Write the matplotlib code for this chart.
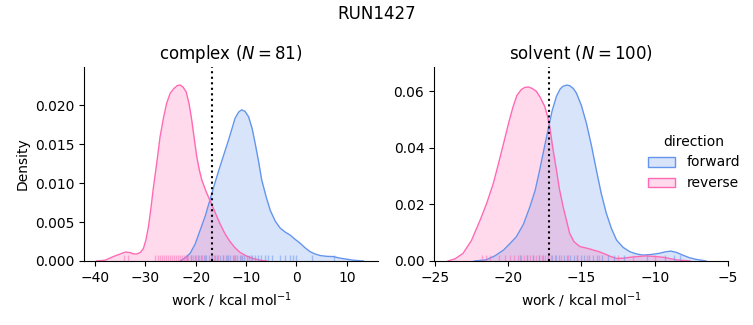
import numpy as np
import matplotlib
matplotlib.use("Agg")
from matplotlib import pyplot as plt
from matplotlib.patches import Patch
import matplotlib.transforms as mtransforms

# colours used by the two directions
FWD = "cornflowerblue"
REV = "hotpink"

# complex panel: density curves
cx_fwd_x = [-23.1, -22.1, -21.1, -20.1, -19.1, -18.1, -17.2, -16.2, -15.2, -14.3, -13.5, -12.8,
            -12.2, -11.5, -10.9, -10.2, -9.5, -8.8, -8.2, -7.5, -6.9, -6.0, -5.2, -4.2, -3.2,
            -2.2, -1.2, -0.3, 0.7, 1.7, 2.7, 3.7, 4.7, 6.0, 7.4, 8.4, 9.3, 11.3, 13.3]
cx_fwd_d = [0.0, 0.0004, 0.001, 0.0022, 0.004, 0.0058, 0.0078, 0.0100, 0.0121, 0.0139, 0.0155, 0.0170,
            0.0183, 0.0191, 0.0194, 0.0192, 0.0185, 0.0170, 0.0151, 0.0127, 0.0104, 0.0082, 0.0065,
            0.0051, 0.0042, 0.0037, 0.0033, 0.0028, 0.0023, 0.0017, 0.0012, 0.0009, 0.0007, 0.0006,
            0.00056, 0.0004, 0.0003, 0.0001, 0.0]
cx_rev_x = [-39.7, -38.0, -36.4, -35.0, -34.0, -33.0, -32.3, -31.7, -31.0, -30.4, -29.9, -29.4,
            -28.9, -28.4, -27.7, -27.1, -26.4, -25.8, -25.1, -24.4, -23.7, -23.1, -22.5, -21.9,
            -21.3, -20.8, -20.3, -19.8, -19.3, -18.8, -18.0, -17.2, -16.2, -15.2, -14.2, -13.2,
            -12.2, -11.2, -9.8, -8.5, -7.2, -5.9]
cx_rev_d = [0.0, 0.0001, 0.00056, 0.0009, 0.00115, 0.00107, 0.0009, 0.0009, 0.0011, 0.0016, 0.0027,
            0.0044, 0.0068, 0.0095, 0.0128, 0.0159, 0.0184, 0.0202, 0.0215, 0.0221, 0.0225, 0.0226,
            0.0223, 0.0217, 0.0201, 0.0181, 0.0157, 0.0134, 0.0117, 0.0104, 0.0090, 0.0078, 0.0063,
            0.0048, 0.0035, 0.0025, 0.0017, 0.0011, 0.0006, 0.0003, 0.0001, 0.0]

# solvent panel
sv_fwd_x = [-22.3, -21.5, -20.9, -20.3, -19.9, -19.43, -18.95, -18.5, -18.15, -17.84, -17.55,
            -17.27, -17.0, -16.7, -16.45, -16.25, -16.0, -15.8, -15.55, -15.34, -15.0, -14.66,
            -14.3, -13.98, -13.65, -13.3, -12.95, -12.6, -12.15, -11.7, -11.25, -10.8, -10.25,
            -9.7, -9.3, -8.9, -8.5, -8.1, -7.65, -7.2, -6.5]
sv_fwd_d = [0.0, 0.0004, 0.0018, 0.0039, 0.006, 0.0086, 0.013, 0.0193, 0.025, 0.0322, 0.0395,
            0.0464, 0.053, 0.0582, 0.0608, 0.0618, 0.0622, 0.062, 0.0610, 0.0594, 0.055, 0.0488,
            0.0405, 0.0322, 0.024, 0.0169, 0.0115, 0.0074, 0.0048, 0.0033, 0.0025, 0.0021, 0.0023,
            0.0027, 0.0032, 0.0035, 0.0030, 0.0021, 0.0012, 0.0006, 0.0]
sv_rev_x = [-24.1, -23.6, -23.07, -22.5, -21.9, -21.45, -21.0, -20.65, -20.3, -19.95, -19.66,
            -19.4, -19.1, -18.85, -18.6, -18.35, -18.07, -17.8, -17.5, -17.3, -17.16, -16.95,
            -16.7, -16.5, -16.25, -16.0, -15.8, -15.5, -15.1, -14.6, -14.2, -13.8, -13.5, -13.0,
            -12.6, -12.1, -11.7, -11.1, -10.6, -10.0, -9.4, -8.9, -8.5, -7.6]
sv_rev_d = [0.0, 0.0008, 0.0027, 0.0072, 0.0145, 0.0205, 0.0275, 0.0345, 0.0417, 0.049, 0.0545,
            0.0585, 0.0606, 0.0614, 0.0615, 0.0610, 0.060, 0.0578, 0.0547, 0.0510, 0.0476, 0.040,
            0.0322, 0.0255, 0.0193, 0.0140, 0.0098, 0.0068, 0.0051, 0.0045, 0.0039, 0.0033, 0.0027,
            0.0016, 0.0009, 0.0010, 0.0013, 0.0016, 0.0018, 0.0016, 0.0013, 0.0008, 0.0004, 0.0]

# rug values (approximate positions of the work samples)
cx_fwd_rug = [-21.7, -20.9, -20.2, -19.6, -19.0, -18.4, -17.9, -17.3, -16.8, -16.2, -15.7, -15.1,
              -14.6, -14.0, -13.5, -13.1, -12.6, -12.2, -11.8, -11.3, -10.9, -10.4, -9.9,
              -9.4, -8.9, -8.3, -7.6, -7.0, -6.3, -5.6, -4.8, -3.3, -2.3, -1.3, -0.7, 0.0, 3.1, 7.5]
cx_rev_rug = [-34.2, -33.4, -28.1, -27.6, -27.2, -26.7, -26.3, -25.9, -25.5, -25.1, -24.7, -24.3,
              -24.0, -23.6, -23.2, -22.8, -22.4, -22.0, -21.5, -21.0, -20.5, -20.0, -19.4,
              -18.8, -18.1, -17.0, -16.4, -15.5, -14.6, -13.7, -12.5, -11.0, -9.0]
sv_fwd_rug = [-19.2, -18.7, -18.3, -17.9, -17.6, -17.3, -17.0, -16.7, -16.5, -16.2, -16.0, -15.8,
              -15.5, -15.3, -15.0, -14.8, -14.5, -14.2, -13.9, -13.6, -13.2, -12.8, -12.1,
              -10.5, -9.3, -8.65, -8.3]
sv_rev_rug = [-21.8, -21.5, -21.2, -20.6, -20.2, -19.9, -19.6, -19.3, -19.1, -18.9, -18.7, -18.5,
              -18.3, -18.1, -17.9, -17.7, -17.5, -17.3, -17.1, -16.8, -16.4, -15.9, -15.3,
              -14.6, -13.8, -12.5, -11.5, -10.0]

panels = [
    ("complex", 81, -16.8, (-42.2, 16.2), (0, 0.0249), [0, 0.005, 0.01, 0.015, 0.02],
     cx_fwd_x, cx_fwd_d, cx_rev_x, cx_rev_d, cx_fwd_rug, cx_rev_rug),
    ("solvent", 100, -17.23, (-25.05, -5.0), (0, 0.0686), [0, 0.02, 0.04, 0.06],
     sv_fwd_x, sv_fwd_d, sv_rev_x, sv_rev_d, sv_fwd_rug, sv_rev_rug),
]

fig = plt.figure(figsize=(7.53, 3.25), dpi=100)
lefts = [84 / 753, 434 / 753]

for i, (name, n, dg, xlim, ylim, yt, fx, fd, rx, rd, frug, rrug) in enumerate(panels):
    ax = fig.add_axes([lefts[i], 64 / 325, 294 / 753, 194 / 325])
    for xs, ds, col in [(fx, fd, FWD), (rx, rd, REV)]:
        ax.fill_between(xs, ds, color=col, alpha=0.25, linewidth=0)
        ax.plot(xs, ds, color=col, lw=1)
    trans = mtransforms.blended_transform_factory(ax.transData, ax.transAxes)
    for rug, col in [(frug, FWD), (rrug, REV)]:
        ax.vlines(rug, 0, 0.03, colors=col, lw=1, alpha=0.5, transform=trans)
    ax.axvline(dg, color="black", linestyle=":", lw=1.5)
    ax.set_xlim(*xlim)
    ax.set_ylim(*ylim)
    ax.set_yticks(yt)
    ax.spines["top"].set_visible(False)
    ax.spines["right"].set_visible(False)
    ax.set_title(f"{name} ($N = {n}$)", fontsize=12)
    ax.set_xlabel(r"work / kcal mol$^{-1}$")
    if i == 0:
        ax.set_ylabel("Density")

fig.suptitle("RUN1427", fontsize=12, y=0.985)

handles = [Patch(facecolor=matplotlib.colors.to_rgba(FWD, 0.25), edgecolor=FWD, label="forward"),
           Patch(facecolor=matplotlib.colors.to_rgba(REV, 0.25), edgecolor=REV, label="reverse")]
fig.legend(handles=handles, title="direction", loc="center left",
           bbox_to_anchor=(635 / 753, 0.5), frameon=False)

fig.savefig("out.png", dpi=100)
